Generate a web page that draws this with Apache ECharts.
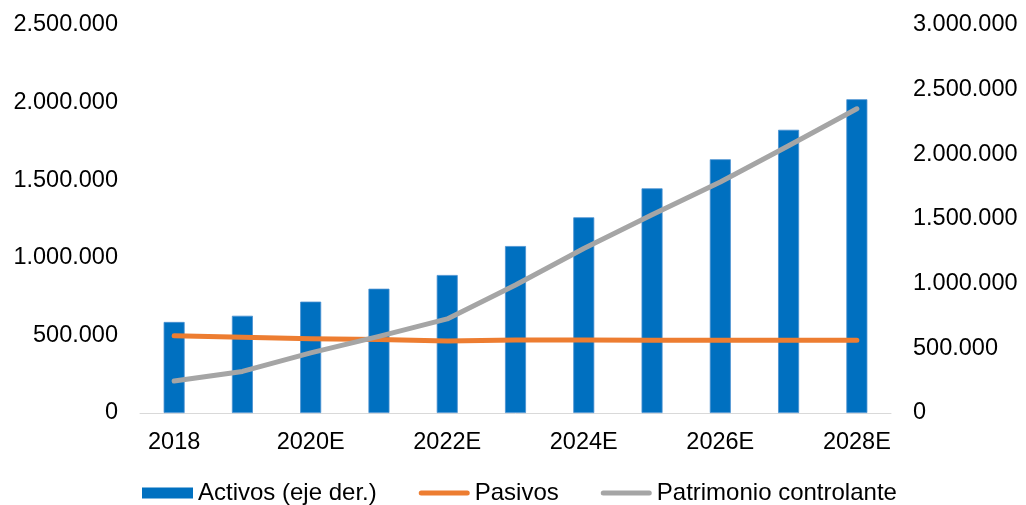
<!DOCTYPE html>
<html>
<head>
<meta charset="utf-8">
<script src="https://cdn.jsdelivr.net/npm/echarts@6/dist/echarts.min.js"></script>
<style>
  html, body { margin: 0; padding: 0; background: #fff; }
  #chart { width: 1026px; height: 505px; }
</style>
</head>
<body>
<div id="chart"></div>
<script>
// Balance projections (values in thousands)
const categories = ['2018', '2019E', '2020E', '2021E', '2022E', '2023E', '2024E', '2025E', '2026E', '2027E', '2028E'];
const activos = [704000, 752000, 861000, 961000, 1067000, 1291000, 1513000, 1737000, 1962000, 2190000, 2426000];
const pasivos = [498000, 488000, 479000, 474000, 464000, 470000, 470000, 468000, 468000, 468000, 468000];
const patrimonio = [206000, 268000, 387000, 494000, 606000, 825000, 1060000, 1278000, 1488000, 1722000, 1960000];

const leftTicks = { min: 0, max: 2500000, interval: 500000 };
const rightTicks = { min: 0, max: 3000000, interval: 500000 };

const FONT = '"Liberation Sans", Arial, sans-serif';

// Thick rounded stroke used as legend marker for the line series;
// the two leading moves pin the icon box to 51x11.
const LINE_ICON = 'path://M0,0 M0,11 M2.5,3 L48.5,3 A2.5,2.5 0 0 1 48.5,8 L2.5,8 A2.5,2.5 0 0 1 2.5,3 Z';

function fmt(v) {
  return String(Math.round(v)).replace(/\B(?=(\d{3})+(?!\d))/g, '.');
}

const chart = echarts.init(document.getElementById('chart'), null, { renderer: 'canvas' });

chart.setOption({
  animation: false,
  backgroundColor: '#ffffff',
  textStyle: { fontFamily: FONT },
  grid: { left: 140, right: 135, top: 25, bottom: 92, containLabel: false },
  legend: {
    top: 481,
    left: 142,
    padding: 0,
    itemWidth: 51,
    itemHeight: 11,
    itemGap: 42,
    textStyle: { fontFamily: FONT, fontSize: 24, color: '#000' },
    data: [
      { name: 'Activos (eje der.)', icon: 'rect', itemStyle: { borderWidth: 0 } },
      { name: 'Pasivos', icon: LINE_ICON },
      { name: 'Patrimonio controlante', icon: LINE_ICON }
    ]
  },
  xAxis: {
    type: 'category',
    data: categories,
    boundaryGap: true,
    axisLine: { show: true, lineStyle: { color: '#D9D9D9', width: 1 } },
    axisTick: { show: false },
    axisLabel: {
      interval: 1,
      margin: 18,
      fontFamily: FONT,
      fontSize: 23.5,
      color: '#000'
    },
    splitLine: { show: false }
  },
  yAxis: [
    {
      type: 'value',
      position: 'left',
      min: leftTicks.min,
      max: leftTicks.max,
      interval: leftTicks.interval,
      axisLine: { show: false },
      axisTick: { show: false },
      splitLine: { show: false },
      axisLabel: { formatter: fmt, margin: 22, fontFamily: FONT, fontSize: 23.5, color: '#000' }
    },
    {
      type: 'value',
      position: 'right',
      min: rightTicks.min,
      max: rightTicks.max,
      interval: rightTicks.interval,
      axisLine: { show: false },
      axisTick: { show: false },
      splitLine: { show: false },
      axisLabel: { formatter: fmt, margin: 22, fontFamily: FONT, fontSize: 23.5, color: '#000' }
    }
  ],
  series: [
    {
      name: 'Activos (eje der.)',
      type: 'bar',
      yAxisIndex: 1,
      data: activos,
      barWidth: 21,
      itemStyle: { color: '#0070C0', borderColor: '#4A90D0', borderWidth: 0.8 }
    },
    {
      name: 'Pasivos',
      type: 'line',
      yAxisIndex: 0,
      data: pasivos,
      symbol: 'none',
      itemStyle: { color: '#ED7D31' },
      lineStyle: { color: '#ED7D31', width: 5, cap: 'round', join: 'round' }
    },
    {
      name: 'Patrimonio controlante',
      type: 'line',
      yAxisIndex: 0,
      data: patrimonio,
      symbol: 'none',
      itemStyle: { color: '#A5A5A5' },
      lineStyle: { color: '#A5A5A5', width: 5, cap: 'round', join: 'round' }
    }
  ]
});
</script>
</body>
</html>
